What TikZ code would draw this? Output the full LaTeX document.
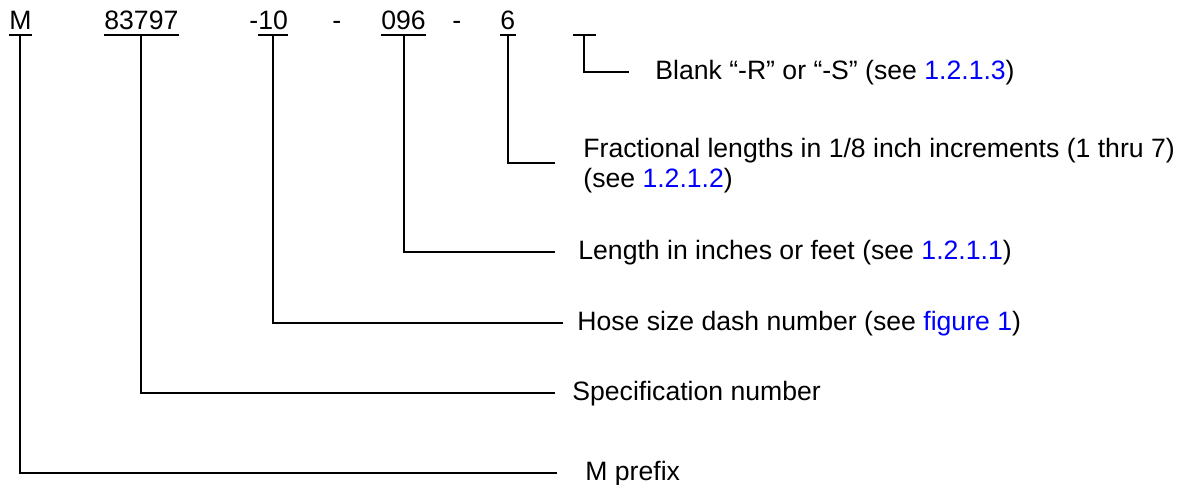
\documentclass[tikz,border=0pt]{standalone}
\usepackage{fontspec}
\setmainfont{Liberation Sans}
\definecolor{linkblue}{RGB}{0,0,255}
\newcommand{\sref}[1]{\textcolor{linkblue}{#1}}
\tikzset{
  part/.style={inner sep=0pt, text depth=2.5pt, anchor=base west},
  lbl/.style={inner ysep=0pt, inner xsep=#1, text height=0.72em, text depth=0pt, anchor=west},
  lbl/.default=12pt,
  conn/.style={line width=1pt}
}
\begin{document}
\begin{tikzpicture}[x=0.5pt,y=-0.5pt,font=\fontsize{13.3}{15}\selectfont]
  \useasboundingbox (0,0) rectangle (1188,485);
  % part number
  \node[part] (m) at (9,30) {M};
  \node[part] (spec) at (104,30) {83797};
  \node[part] (d1) at (249,30) {-};
  \node[part] (size) at (258,30) {10};
  \node[part] (d2) at (332,30) {-};
  \node[part] (len) at (381,30) {096};
  \node[part] (d3) at (452,30) {-};
  \node[part] (frac) at (500,30) {6};
  \node[part] (blank) at (573,30) {\hspace*{11pt}};
  \foreach \p in {m,spec,size,len,frac,blank}
    \draw[conn] (\p.south west) -- (\p.south east);
  % descriptions
  \node[lbl=13pt] (blanktxt) at (629,72) {Blank “-R” or “-S” (see \sref{1.2.1.3})};
  \node[lbl=14pt, align=left, text height=24.6pt, text depth=0pt] (fractxt) at (555,163)
    {Fractional lengths in 1/8 inch increments (1 thru 7)\\(see \sref{1.2.1.2})};
  \node[lbl=11.5pt] (lentxt) at (555,252) {Length in inches or feet (see \sref{1.2.1.1})};
  \node[lbl=7pt] (sizetxt) at (563,323) {Hose size dash number (see \sref{figure 1})};
  \node[lbl=8.5pt] (spectxt) at (555,393) {Specification number};
  \node[lbl=14pt] (mtxt) at (557,473) {M prefix};
  % leaders
  \foreach \p/\t in {m/mtxt,spec/spectxt,size/sizetxt,len/lentxt,frac/fractxt,blank/blanktxt}
    \draw[conn] (\p.south) |- (\t.west);
\end{tikzpicture}
\end{document}
